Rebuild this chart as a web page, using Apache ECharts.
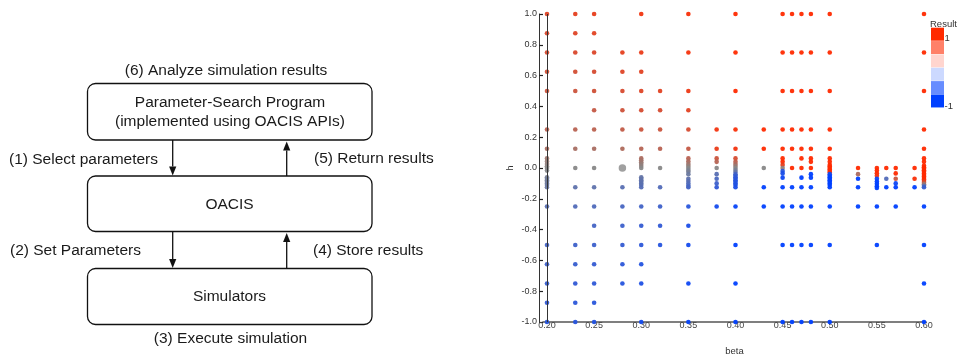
<!DOCTYPE html>
<html>
<head>
<meta charset="utf-8">
<script src="https://cdn.jsdelivr.net/npm/echarts@6/dist/echarts.min.js"></script>
<style>
  html, body { margin: 0; padding: 0; background: #fff; }
  #chart { width: 957px; height: 361px; }
</style>
</head>
<body>
<div id="chart"></div>
<script>
// beta columns of the sweep, each column holds [h, result] pairs
var betaValues = [0.20, 0.23, 0.25, 0.28, 0.30, 0.32, 0.35, 0.38, 0.40, 0.43, 0.45,
                  0.46, 0.47, 0.48, 0.50, 0.53, 0.55, 0.56, 0.57, 0.59, 0.60];
var betaTicks = [0.20, 0.25, 0.30, 0.35, 0.40, 0.45, 0.50, 0.55, 0.60];

var col020 = [[1, 0.72], [0.875, 0.68], [0.75, 0.64], [0.625, 0.6], [0.5, 0.55], [0.25, 0.4], [0.125, 0.28],
  [0.0625, 0.18], [0.043, 0.12], [0.026, 0.08], [0.011, 0.04], [0, 0], [-0.017, -0.02],
  [-0.06, -0.12], [-0.07, -0.14], [-0.08, -0.15], [-0.09, -0.16], [-0.1, -0.18], [-0.11, -0.19], [-0.125, -0.22],
  [-0.25, -0.35], [-0.5, -0.5], [-0.625, -0.55], [-0.75, -0.6], [-0.875, -0.65], [-1, -0.7]];
var col023 = [[1, 0.78], [0.875, 0.72], [0.75, 0.68], [0.625, 0.62], [0.5, 0.56], [0.25, 0.4], [0.125, 0.27], [0, 0],
  [-0.125, -0.3], [-0.25, -0.4], [-0.5, -0.55], [-0.625, -0.6], [-0.75, -0.65], [-0.875, -0.68], [-1, -0.72]];
var col025 = [[1, 0.8], [0.875, 0.75], [0.75, 0.7], [0.625, 0.65], [0.5, 0.6], [0.375, 0.5], [0.25, 0.42], [0.125, 0.28], [0, 0],
  [-0.125, -0.3], [-0.25, -0.42], [-0.375, -0.5], [-0.5, -0.56], [-0.625, -0.62], [-0.75, -0.66], [-0.875, -0.7], [-1, -0.75]];
var col028 = [[0.75, 0.78], [0.625, 0.72], [0.5, 0.66], [0.375, 0.58], [0.25, 0.48], [0.125, 0.32],
  [-0.125, -0.35], [-0.25, -0.48], [-0.375, -0.56], [-0.5, -0.62], [-0.625, -0.68], [-0.75, -0.72]];
var col030 = [[1, 0.88], [0.75, 0.82], [0.625, 0.76], [0.5, 0.72], [0.375, 0.65], [0.25, 0.55], [0.125, 0.38],
  [0.0625, 0.3], [0.05, 0.24], [0.037, 0.18], [0.026, 0.12], [0.013, 0.06], [0, 0],
  [-0.06, -0.25], [-0.07, -0.27], [-0.08, -0.29], [-0.09, -0.3], [-0.1, -0.32], [-0.11, -0.34], [-0.125, -0.38],
  [-0.25, -0.52], [-0.375, -0.62], [-0.5, -0.68], [-0.625, -0.74], [-0.75, -0.78], [-1, -0.85]];
var col032 = [[0.5, 0.75], [0.375, 0.65], [0.25, 0.55], [0.125, 0.4], [0, 0],
  [-0.125, -0.4], [-0.25, -0.55], [-0.375, -0.65], [-0.5, -0.72]];
var col035 = [[1, 0.95], [0.75, 0.92], [0.5, 0.85], [0.375, 0.75], [0.25, 0.65], [0.125, 0.5],
  [0.0625, 0.4], [0.043, 0.3], [0.026, 0.2], [0.013, 0.1], [0, 0], [-0.013, -0.06], [-0.025, -0.12], [-0.04, -0.2],
  [-0.07, -0.3], [-0.085, -0.35], [-0.1, -0.4], [-0.115, -0.45], [-0.125, -0.5],
  [-0.25, -0.7], [-0.375, -0.8], [-0.5, -0.85], [-0.75, -0.9], [-1, -0.95]];
var col038 = [[0.25, 0.9], [0.125, 0.82], [0.0625, 0.55], [0.04, 0.38], [0, 0],
  [-0.04, -0.35], [-0.07, -0.45], [-0.1, -0.55], [-0.125, -0.65], [-0.25, -0.85]];
var col040 = [[1, 1], [0.75, 1], [0.5, 1], [0.25, 0.95], [0.125, 0.9], [0.0625, 0.65], [0.04, 0.45], [0.026, 0.3],
  [0.013, 0.15], [0, 0], [-0.013, -0.1], [-0.026, -0.25], [-0.04, -0.5], [-0.05, -0.6], [-0.06, -0.65],
  [-0.07, -0.68], [-0.08, -0.7], [-0.09, -0.72], [-0.1, -0.74], [-0.11, -0.76], [-0.125, -0.8],
  [-0.25, -0.95], [-0.5, -1], [-0.75, -1], [-1, -1]];
var col043 = [[0.25, 1], [0.125, 1], [0, 0], [-0.125, -1], [-0.25, -1]];
var col045 = [[1, 1], [0.75, 1], [0.5, 1], [0.25, 1], [0.125, 1], [0.0625, 1], [0.04, 1], [0.02, 0.8], [0, 0.1],
  [-0.02, -0.7], [-0.035, -0.8], [-0.0625, -0.9], [-0.125, -1], [-0.25, -1], [-0.5, -1], [-1, -1]];
var col046 = [[1, 1], [0.75, 1], [0.5, 1], [0.25, 1], [0.125, 1], [0, 1], [-0.125, -1], [-0.25, -1], [-0.5, -1], [-1, -1]];
var col047 = [[1, 1], [0.75, 1], [0.5, 1], [0.25, 1], [0.125, 1], [0.0625, 1], [0, 1],
  [-0.0625, -1], [-0.125, -1], [-0.25, -1], [-0.5, -1], [-1, -1]];
var col048 = [[1, 1], [0.75, 1], [0.5, 1], [0.25, 1], [0.125, 1], [0.0625, 1], [0.04, 1], [0, 1],
  [-0.04, -1], [-0.0625, -1], [-0.125, -1], [-0.25, -1], [-0.5, -1], [-1, -1]];
var col050 = [[1, 1], [0.75, 1], [0.5, 1], [0.25, 1], [0.125, 1], [0.0625, 1], [0.04, 1], [0.02, 1], [0.01, 1], [0, 1],
  [-0.01, 1], [-0.02, 1], [-0.03, 0.95], [-0.04, -0.85], [-0.05, -0.95], [-0.06, -1], [-0.07, -1], [-0.08, -1],
  [-0.09, -1], [-0.1, -1], [-0.11, -1], [-0.125, -1], [-0.25, -1], [-0.5, -1], [-1, -1]];
var col053 = [[0, 1], [-0.04, 0.3], [-0.07, -1], [-0.125, -1], [-0.25, -1]];
var col055 = [[0, 1], [-0.017, 1], [-0.034, 1], [-0.05, 0.9], [-0.07, -0.9], [-0.088, -1], [-0.103, -1],
  [-0.118, -1], [-0.13, -1], [-0.25, -1], [-0.5, -1]];
var col056 = [[0, 1], [-0.07, -0.4], [-0.125, -1]];
var col057 = [[0, 1], [-0.035, 1], [-0.07, 0.55], [-0.1, -0.9], [-0.125, -1], [-0.25, -1]];
var col059 = [[0, 1], [-0.07, 0.95], [-0.125, -1]];
var col060 = [[1, 1], [0.75, 1], [0.5, 1], [0.25, 1], [0.125, 1], [0.0625, 1], [0.04, 1], [0.015, 1], [0.005, 1],
  [-0.005, 1], [-0.015, 1], [-0.025, 1], [-0.035, 1], [-0.045, 1], [-0.055, 1], [-0.065, 1], [-0.075, 1],
  [-0.085, 0.9], [-0.095, 0.6], [-0.105, 0.2], [-0.115, -0.3], [-0.125, -0.6],
  [-0.25, -1], [-0.5, -1], [-0.75, -1], [-1, -1]];

// point drawn bigger in the original (several runs on it)
var largePoints = [[0.28, 0, 0]];

var columns = [col020, col023, col025, col028, col030, col032, col035, col038, col040, col043, col045,
               col046, col047, col048, col050, col053, col055, col056, col057, col059, col060];

var legendColors = ['#ff2a00', '#ff8068', '#ffd5cf', '#ccd9ff', '#678dff', '#0040ff'];

var points = [];
columns.forEach(function (col, i) {
  col.forEach(function (p) {
    points.push([betaValues[i], p[0], p[1]]);
  });
});

var FONT_FAMILY = '"Liberation Sans", Arial, Helvetica, sans-serif';
var BOX_FONT = '15.5px ' + FONT_FAMILY;

function box(x, y, w, h) {
  return {
    type: 'rect',
    shape: { x: x, y: y, width: w, height: h, r: 8 },
    style: { fill: '#fff', stroke: '#111', lineWidth: 1.3 }
  };
}
function label(text, x, y, align) {
  return {
    type: 'text',
    x: x, y: y,
    style: {
      text: text, font: BOX_FONT, fill: '#1a1a1a',
      align: align, verticalAlign: 'middle',
      textAlign: align, textVerticalAlign: 'middle'
    }
  };
}
function arrow(x, yFrom, yTo) {
  var dir = yTo > yFrom ? 1 : -1;
  var base = yTo - dir * 9;
  return [
    { type: 'line', shape: { x1: x, y1: yFrom, x2: x, y2: base }, style: { stroke: '#111', lineWidth: 1.3 } },
    { type: 'polygon', shape: { points: [[x - 3.6, base], [x + 3.6, base], [x, yTo]] }, style: { fill: '#111' } }
  ];
}

var graphics = [
  label('(6) Analyze simulation results', 226, 71, 'center'),
  box(87.5, 83.5, 284.5, 56.5),
  label('Parameter-Search Program', 230, 103, 'center'),
  label('(implemented using OACIS APIs)', 230, 121.5, 'center'),
  label('(1) Select parameters', 9, 160, 'left'),
  label('(5) Return results', 314, 159, 'left'),
  box(87.5, 176, 284.5, 55.5),
  label('OACIS', 229.5, 205, 'center'),
  label('(2) Set Parameters', 10, 251, 'left'),
  label('(4) Store results', 313, 251, 'left'),
  box(87.5, 268.5, 284.5, 56),
  label('Simulators', 229.5, 297, 'center'),
  label('(3) Execute simulation', 230.5, 339, 'center')
].concat(arrow(172.7, 140, 175.5), arrow(286.7, 176, 141.5),
         arrow(172.7, 231.5, 268), arrow(286.7, 268.5, 233));

// colour legend on the right
var LEGEND_FONT = '9.5px ' + FONT_FAMILY;
graphics.push({
  type: 'text', x: 930, y: 24,
  style: { text: 'Result', font: LEGEND_FONT, fill: '#333', verticalAlign: 'middle', textVerticalAlign: 'middle' }
});
legendColors.forEach(function (c, i) {
  graphics.push({
    type: 'rect',
    shape: { x: 931, y: 27.7 + i * 13.35, width: 13, height: 13 },
    style: { fill: c }
  });
});
graphics.push({
  type: 'text', x: 944.5, y: 38,
  style: { text: '1', font: LEGEND_FONT, fill: '#333', verticalAlign: 'middle', textVerticalAlign: 'middle' }
});
graphics.push({
  type: 'text', x: 944.5, y: 106.5,
  style: { text: '-1', font: LEGEND_FONT, fill: '#333', verticalAlign: 'middle', textVerticalAlign: 'middle' }
});

var myChart = echarts.init(document.getElementById('chart'));

var option = {
  animation: false,
  backgroundColor: '#fff',
  textStyle: { fontFamily: FONT_FAMILY },
  grid: { left: 543, right: 31, top: 14, bottom: 37 },
  xAxis: {
    type: 'value',
    min: 0.2 - 4 / 942.5,
    max: 0.6 + 2 / 942.5,
    name: 'beta',
    nameLocation: 'middle',
    nameGap: 24,
    nameTextStyle: { fontSize: 9.5, color: '#333' },
    axisLine: { onZero: false, lineStyle: { color: '#555', width: 1.6 } },
    axisTick: { show: false },
    splitLine: { show: false },
    axisLabel: {
      customValues: betaTicks,
      formatter: function (v) { return v.toFixed(2); },
      fontSize: 9, color: '#444', margin: -1
    }
  },
  yAxis: {
    type: 'value',
    min: -1, max: 1, interval: 0.2,
    offset: 4,
    name: 'h',
    nameLocation: 'middle',
    nameGap: 24,
    nameTextStyle: { fontSize: 9.5, color: '#333' },
    axisLine: { show: true, onZero: false, lineStyle: { color: '#333', width: 1 } },
    axisTick: { show: true, inside: true, length: 4, lineStyle: { color: '#222', width: 1.2 } },
    splitLine: { show: false },
    axisLabel: {
      formatter: function (v) { return Math.abs(v) < 1e-9 ? '0.0' : v.toFixed(1); },
      fontSize: 9, color: '#333', margin: 2
    }
  },
  visualMap: {
    show: false,
    type: 'continuous',
    min: -1, max: 1,
    dimension: 2,
    seriesIndex: [0, 1],
    inRange: { color: ['#0040ff', '#888888', '#ff2a00'] }
  },
  graphic: graphics,
  series: [
    {
      type: 'scatter',
      data: points,
      symbolSize: 4.6,
      itemStyle: { opacity: 0.95 },
      markLine: {
        silent: true,
        symbol: 'none',
        label: { show: false },
        lineStyle: { color: '#333', width: 1, type: 'solid' },
        data: [{ xAxis: 0.2 }]
      }
    },
    {
      type: 'scatter',
      data: largePoints,
      symbolSize: 7.5
    }
  ]
};

myChart.setOption(option);
</script>
</body>
</html>
